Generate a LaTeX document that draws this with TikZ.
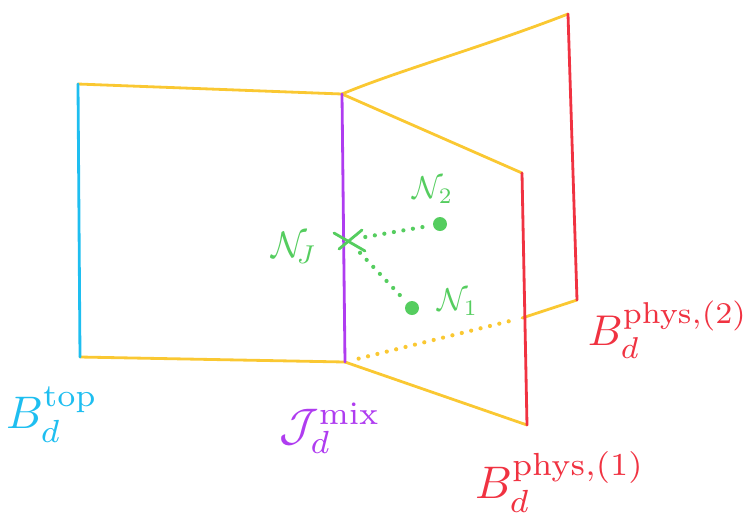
\documentclass[tikz,border=0pt]{standalone}
\usepackage{amsmath,amssymb}
\usetikzlibrary{arrows.meta,positioning}
\definecolor{topcyan}{RGB}{30,190,240}
\definecolor{mixviolet}{RGB}{175,60,240}
\definecolor{physred}{RGB}{240,50,65}
\definecolor{edgeyellow}{RGB}{250,200,50}
\definecolor{markgreen}{RGB}{85,205,95}
\newcommand{\biglbl}[1]{\scalebox{2.6}{#1}}
\newcommand{\midlbl}[1]{\scalebox{1.8}{#1}}

\begin{document}
\begin{tikzpicture}[x=0.02cm,y=-0.02cm,line cap=round,line join=round,
  pen/.style={line width=1.6pt},
  dotline/.style={line width=2.4pt,dash pattern=on 0pt off 5.5pt},
  dot/.style={circle,fill=markgreen,inner sep=0pt,minimum size=0.28cm},
  lbl/.style={inner sep=0pt},
  small/.style={inner sep=0pt,text=markgreen}]
  \useasboundingbox (0,0) rectangle (755,529);

  % corners of the two boxes
  \coordinate (TL) at (78,84);   \coordinate (BL) at (80,357);
  \coordinate (MT) at (342,94);  \coordinate (MB) at (345,362);
  \coordinate (FT) at (522,173); \coordinate (FB) at (527,425);
  \coordinate (KT) at (568,14);  \coordinate (KB) at (577,300);
  \coordinate (KH) at (522,318);

  % yellow edges
  \draw[pen,edgeyellow] (TL) -- (MT);
  \draw[pen,edgeyellow] (BL) -- (MB);
  \draw[pen,edgeyellow] (MT) .. controls (400,70) and (480,48) .. (KT);
  \draw[pen,edgeyellow] (MT) -- (FT);
  \draw[pen,edgeyellow] (MB) -- (FB);
  \draw[pen,edgeyellow] (KH) -- (KB);
  \draw[dotline,edgeyellow,shorten <=8pt,shorten >=6pt] (MB) -- (KH);

  % coloured boundaries
  \draw[pen,topcyan]   (TL) -- (BL);
  \draw[pen,mixviolet] (MT) -- (MB);
  \draw[pen,physred]   (FT) -- (FB);
  \draw[pen,physred]   (KT) -- (KB);

  % junction and nodes
  \coordinate (XC) at (348,240);
  \draw[pen,markgreen] ([shift={(-14,-7)}]XC) -- ([shift={(17,11)}]XC);
  \draw[pen,markgreen] ([shift={(-9,9)}]XC) -- ([shift={(14,-10)}]XC);
  \node[dot] (n2dot) at (440,224) {};
  \node[dot] (n1dot) at (412,308) {};
  \draw[dotline,markgreen,shorten <=10pt,shorten >=4pt] (XC) -- (n2dot);
  \draw[dotline,markgreen,shorten <=10pt,shorten >=4pt] (XC) -- (n1dot);
  \node[small] (nj) at (294,248) {\scalebox{2.1}{$\mathcal{N}_{\!J}$}};
  \node[small] (n2) at (433,190) {\midlbl{$\mathcal{N}_2$}};
  \node[small] (n1) at (458,302) {\midlbl{$\mathcal{N}_1$}};

  % labels
  \node[lbl,text=topcyan]   (btop) at (52,415)  {\biglbl{$B^{\mathrm{top}}_d$}};
  \node[lbl,text=mixviolet] (jmix) at (330,428) {\biglbl{$\mathcal{J}^{\mathrm{mix}}_d$}};
  \node[lbl,text=physred]   (bp1)  at (560,482) {\biglbl{$B^{\mathrm{phys},(1)}_d$}};
  \node[lbl,text=physred]   (bp2)  at (668,330) {\scalebox{2.45}{$B^{\mathrm{phys},(2)}_d$}};
\end{tikzpicture}
\end{document}
